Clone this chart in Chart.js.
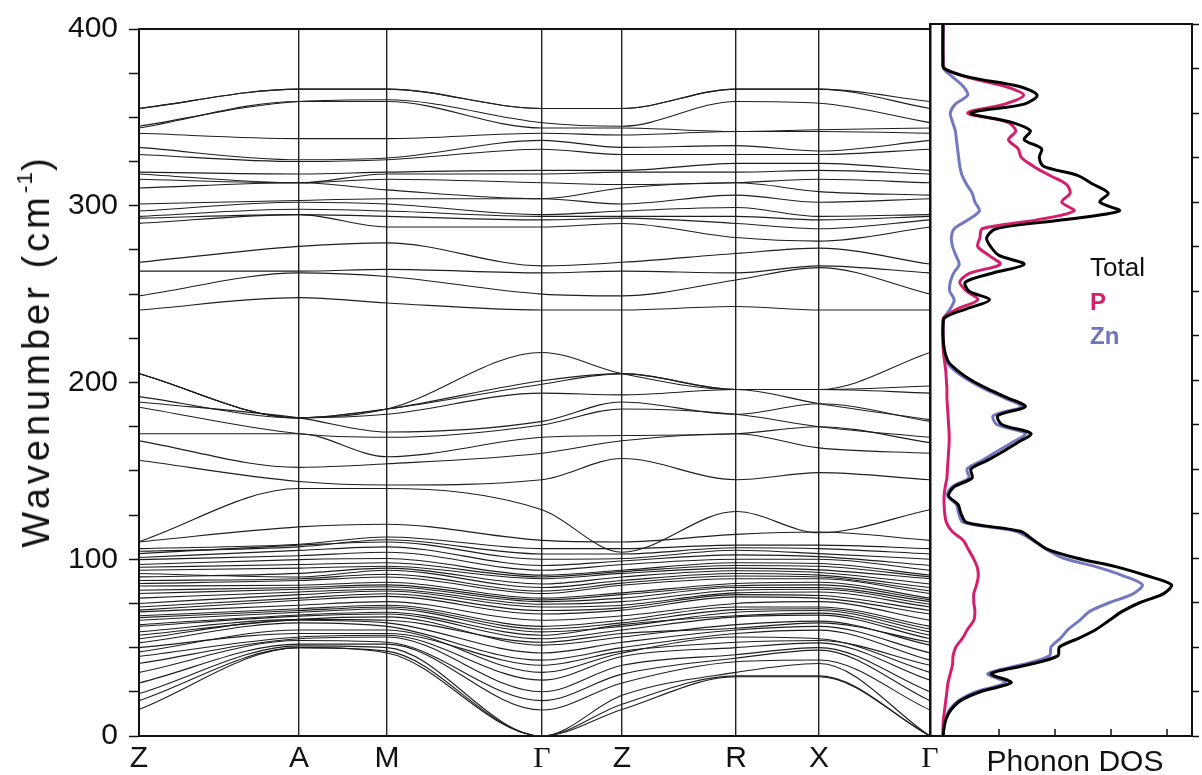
<!DOCTYPE html>
<html lang="en">
<head>
<meta charset="UTF-8" />
<title>Phonon dispersion and DOS</title>
<script src="https://cdn.jsdelivr.net/npm/chart.js"></script>
<style>
    body { margin: 0; background: #fff; width: 1202px; height: 775px; position: relative; overflow: hidden;
           font-family: 'Liberation Sans', Arial, sans-serif; color: #111; }
    #bands { position: absolute; left: 0; top: 0; }
    #dos { position: absolute; left: 920px; top: 0; }
    .leg { position: absolute; left: 1090px; line-height: 1; }
    .lab { position: absolute; white-space: nowrap; line-height: 1; transform: translate(-50%, -50%); }
    #ytitle { left: 36px; top: 351px; font-size: 38px; letter-spacing: 4px;
              transform: translate(-50%, -50%) rotate(-90deg); }
    #ytitle sup { font-size: 60%; letter-spacing: 1px; vertical-align: 0.75em; line-height: 0; }
    #xtitle { left: 1075px; top: 761px; font-size: 30px; }
</style>
</head>
<body>
<canvas id="bands" width="962" height="775"></canvas>
<canvas id="dos" width="282" height="775"></canvas>
<div class="lab" id="ytitle">Wavenumber (cm<sup>-1</sup>)</div>
<div class="lab" id="xtitle">Phonon DOS</div>
<div class="leg" style="top:254px;font-size:26px;color:#111;">Total</div>
<div class="leg" style="top:290px;font-size:24px;font-weight:bold;color:#d4206c;">P</div>
<div class="leg" style="top:324px;font-size:24px;font-weight:bold;color:#6f74bb;">Zn</div>
<script>
// high-symmetry path
const kLabels = ['Z', 'A', 'M', 'Γ', 'Z', 'R', 'X', 'Γ'];
const kPos = [0, 160, 248, 403, 483, 597, 680, 791];

// band frequencies (cm-1) at Z, A, M, Γ, Z, R, X, Γ
const bandsLow = [
    [15, 50, 47, 0, 15, 33.5, 33.5, 0],
    [20, 50, 48, 0, 18, 34, 34, 0],
    [24, 51, 50, 0, 23, 36, 41, 0],
    [30, 52, 52, 14.7, 30, 42, 43, 14.7],
    [36, 54, 53, 20, 35, 44, 48.6, 20],
    [41, 55, 56, 25, 40, 46, 50, 25],
    [45, 56, 57, 31.6, 45, 50, 52.7, 31.6],
    [47.6, 60, 60, 36, 47, 56, 55, 36],
    [50, 58, 58, 40, 48, 53, 54, 40],
    [52.7, 64, 62, 42.9, 50, 58, 59.9, 42.9],
    [55, 65.5, 64, 47, 53, 60, 62, 47],
    [57, 66, 67.4, 51.4, 56, 63, 65, 51.4],
    [59, 66, 65.5, 53, 58, 61, 64, 53],
    [62, 67.8, 69, 55, 60, 67.4, 68.4, 55],
    [63, 68.5, 70, 57, 63, 68, 69.5, 57],
    [65.5, 70, 72, 58.9, 62, 70, 71, 58.9],
    [67, 71, 73, 60.5, 64, 71.5, 72, 60.5],
    [68, 72, 74, 62, 65.5, 73, 73, 62],
    [70.2, 74, 76, 65.5, 68, 75, 76, 65.5],
    [71.2, 76.8, 79, 69, 71.2, 78.7, 78, 69],
    [73, 78, 80.5, 71, 72.5, 80, 79.5, 71],
    [75, 80, 82, 73, 74, 81, 81.5, 73],
    [78, 81.5, 83, 74.5, 76, 82.5, 83, 74.5],
    [80.6, 83, 84.4, 76, 78, 84, 84, 76],
    [82.5, 84, 85.5, 77, 80, 85, 85.5, 77],
    [84.9, 85.3, 87, 78, 81, 86.3, 87, 78],
    [86.3, 88, 90, 80.6, 85.3, 89, 89, 80.6],
    [88, 89, 91.5, 82, 86.5, 90.5, 90, 82],
    [90, 92, 95, 86, 90, 93.5, 92.5, 86],
    [91.9, 90, 93.8, 84, 88, 91.9, 91, 84],
    [93.8, 95, 96, 89, 92, 95, 94, 89],
    [95.5, 97, 98, 90, 93, 96.5, 96, 90],
    [97, 99.8, 100.4, 91, 93.8, 98, 97.6, 91],
    [99.8, 102, 104, 93.8, 97, 100, 100, 93.8],
    [101, 105, 107, 96.5, 99, 102.5, 101.5, 96.5],
    [103.2, 108, 109.8, 100, 100.4, 105.1, 103.2, 100],
    [104.5, 107, 111, 103, 103, 106.5, 106, 103],
    [106, 108.5, 112.6, 106, 106, 108, 108, 106],
    [109.8, 118.3, 119.8, 110.7, 109.8, 114.1, 115.4, 110.7]
];
const bandsMid = [
    [110, 140, 140, 128, 104, 127, 115, 128],
    [156, 144, 142, 145, 157, 145, 149, 145],
    [167, 152, 154, 160, 167, 171, 163, 160],
    [171, 171, 158, 169, 170, 171, 175, 166],
    [186, 171, 169, 176, 185, 182, 175, 169],
    [189, 180, 172, 178, 189, 182, 188, 178],
    [192, 180, 182, 194, 193, 196, 188, 179],
    [205, 180, 185, 199, 205, 196, 196, 194],
    [205, 180, 185, 201, 205, 196, 196, 198],
    [205, 180, 185, 217, 205, 196, 196, 217]
];
const bandsHigh = [
    [241, 248, 245, 241, 241, 243, 241, 241],
    [249, 262, 260, 250, 249, 258, 265, 250],
    [263, 263, 264, 262, 263, 262, 266, 262],
    [268, 277, 279, 266, 268, 273, 276, 267],
    [290, 295, 288, 288, 290, 282, 280, 288],
    [293, 295, 294, 292, 293, 290, 287, 292],
    [294, 298, 297, 294, 294, 294, 292, 294],
    [297, 302, 301, 295, 297, 299, 294, 295],
    [301, 303, 304, 304, 301, 306, 302, 304],
    [310, 313, 309, 304, 310, 313, 308, 306],
    [315, 313, 315, 313, 312, 313, 315, 313],
    [318, 313, 318, 318, 319, 319, 320, 318],
    [319, 318, 319, 320, 320, 324, 324, 320],
    [329, 325, 326, 332, 329, 329, 329, 332],
    [333, 326, 327, 337, 333, 334, 331, 337],
    [341, 338, 338, 341, 340, 342, 342, 341],
    [344, 359, 359, 344, 344, 342, 343, 344],
    [345, 359, 360, 347, 345, 359, 358, 347],
    [355, 366, 366, 355, 355, 366, 366, 355],
    [355, 366, 366, 355, 355, 366, 366, 359]
];

// phonon DOS
const dosFreq = [0, 5, 10, 15, 20, 25, 30, 35, 40, 45, 50, 55, 60, 65, 70, 75, 80, 85, 90, 95,
    100, 105, 110, 115, 120, 125, 130, 135, 140, 145, 150, 155, 160, 165, 170, 175, 180, 185, 190, 195,
    200, 205, 210, 215, 220, 225, 230, 235, 240, 245, 250, 255, 260, 265, 270, 275, 280, 285, 290, 295,
    300, 305, 310, 315, 320, 325, 330, 335, 340, 345, 350, 355, 360, 365, 370, 375, 380, 400];
const dosTotal = [0, 0.02, 0.06, 0.15, 0.32, 0.68, 1.22, 0.86, 1.52, 2.05, 2.08, 2.43, 2.74, 2.97, 3.2, 3.52, 3.94, 4.08, 3.64, 3.1,
    2.38, 1.86, 1.62, 1.38, 0.42, 0.32, 0.27, 0.1, 0.2, 0.52, 0.5, 0.8, 1.08, 1.34, 1.57, 1.05, 0.98, 1.47, 1.15, 0.8,
    0.5, 0.27, 0.1, 0.04, 0.01, 0, 0, 0.03, 0.42, 0.83, 0.46, 0.4, 0.88, 1.45, 1.0, 0.85, 0.78, 0.95, 2.15, 3.15,
    2.8, 2.95, 2.68, 2.4, 1.8, 1.72, 1.76, 1.45, 1.56, 1.2, 0.5, 1.45, 1.68, 1.35, 0.48, 0.02, 0, 0];
const dosP = [0, 0, 0.01, 0.03, 0.05, 0.07, 0.09, 0.13, 0.17, 0.18, 0.23, 0.35, 0.44, 0.55, 0.57, 0.55, 0.55, 0.6, 0.63, 0.61,
    0.54, 0.45, 0.36, 0.16, 0.06, 0.03, 0.02, 0.02, 0.04, 0.07, 0.08, 0.09, 0.1, 0.11, 0.11, 0.1, 0.09, 0.08, 0.07, 0.07,
    0.06, 0.05, 0.03, 0.01, 0, 0, 0, 0.01, 0.26, 0.62, 0.42, 0.3, 0.48, 1.02, 0.82, 0.62, 0.66, 0.7, 1.7, 2.34,
    2.12, 2.27, 2.2, 1.9, 1.62, 1.4, 1.34, 1.17, 1.3, 1.14, 0.44, 1.1, 1.44, 1.1, 0.44, 0.03, 0, 0];
const dosZn = [0, 0.02, 0.05, 0.12, 0.28, 0.6, 1.12, 0.8, 1.4, 1.9, 1.93, 2.1, 2.24, 2.44, 2.62, 2.98, 3.4, 3.56, 3.22, 2.74,
    2.14, 1.84, 1.6, 1.3, 0.36, 0.28, 0.24, 0.08, 0.16, 0.46, 0.43, 0.71, 0.97, 1.24, 1.47, 0.96, 0.9, 1.4, 1.09, 0.74,
    0.45, 0.22, 0.07, 0.03, 0.01, 0, 0, 0.02, 0.13, 0.2, 0.12, 0.13, 0.19, 0.29, 0.23, 0.17, 0.15, 0.2, 0.45, 0.65,
    0.57, 0.52, 0.42, 0.34, 0.3, 0.28, 0.26, 0.24, 0.22, 0.17, 0.13, 0.22, 0.44, 0.36, 0.18, 0.01, 0, 0];

const sans = 'Liberation Sans, Arial, sans-serif';
const serif = 'Liberation Serif, Times New Roman, serif';
const ink = '#111';

// band structure panel
const allBands = [...bandsLow, ...bandsMid, ...bandsHigh];
new Chart(document.getElementById('bands'), {
    type: 'line',
    data: {
        datasets: allBands.map(b => ({
            data: b.map((v, i) => ({ x: kPos[i], y: v })),
            borderColor: '#1e1e1e',
            borderWidth: 1.1,
            pointRadius: 0,
            cubicInterpolationMode: 'monotone',
            fill: false
        }))
    },
    options: {
        responsive: false,
        animation: false,
        layout: { padding: { right: 32 } },
        plugins: { legend: { display: false }, tooltip: { enabled: false } },
        scales: {
            x: {
                type: 'linear', min: 0, max: 791,
                afterBuildTicks: s => { s.ticks = kPos.map(v => ({ value: v })); },
                afterFit: s => { s.height = 39; s.paddingLeft = 0; s.paddingRight = 0; },
                ticks: {
                    autoSkip: false, maxRotation: 0, padding: 5, color: ink,
                    callback: (v, i) => kLabels[i],
                    font: c => ({ family: kLabels[c.index] === 'Γ' ? serif : sans, size: 30 })
                },
                grid: { color: '#222', lineWidth: 1.4, drawTicks: false },
                border: { color: ink, width: 2 }
            },
            xTop: {
                type: 'linear', position: 'top', min: 0, max: 791,
                afterFit: s => { s.height = 24; s.paddingLeft = 0; s.paddingRight = 0; },
                ticks: { display: false },
                grid: { display: false },
                border: { color: ink, width: 2 }
            },
            y: {
                min: 0, max: 400,
                afterFit: s => { s.width = 139; },
                ticks: {
                    stepSize: 25, padding: 11, color: ink,
                    font: { family: sans, size: 30 },
                    callback: v => (v % 100 === 0 ? v : '')
                },
                grid: { drawOnChartArea: false, tickLength: 10, tickColor: ink, tickWidth: 1.5 },
                border: { color: ink, width: 2 }
            }
        }
    }
});

// tick marks pointing into the DOS panel from its bottom edge
const innerTicks = {
    id: 'innerTicks',
    afterDraw(chart) {
        const { ctx, scales } = chart;
        const yb = scales.y.getPixelForValue(0);
        ctx.save();
        ctx.strokeStyle = ink;
        ctx.lineWidth = 1.5;
        [1, 2, 3, 4].forEach(v => {
            const x = scales.x.getPixelForValue(v);
            ctx.beginPath();
            ctx.moveTo(x, yb);
            ctx.lineTo(x, yb - 7);
            ctx.stroke();
        });
        ctx.restore();
    }
};

const dosSet = (vals, color, order) => ({
    data: dosFreq.map((f, i) => ({ x: vals[i], y: f })),
    borderColor: color,
    borderWidth: 3,
    pointRadius: 0,
    tension: 0.3,
    fill: false,
    order: order
});

new Chart(document.getElementById('dos'), {
    type: 'line',
    data: {
        datasets: [
            dosSet(dosTotal, '#000', 0),
            dosSet(dosP, '#d4206c', 1),
            dosSet(dosZn, '#7479bf', 2)
        ]
    },
    plugins: [innerTicks],
    options: {
        responsive: false,
        animation: false,
        indexAxis: 'y',
        layout: { padding: { left: 10 } },
        plugins: { legend: { display: false }, tooltip: { enabled: false } },
        scales: {
            x: {
                type: 'linear', min: -0.232, max: 4.446,
                afterFit: s => { s.height = 39; },
                ticks: { display: false },
                grid: { display: false },
                border: { color: ink, width: 2 }
            },
            xTop: {
                type: 'linear', position: 'top', min: -0.232, max: 4.446,
                afterFit: s => { s.height = 24; },
                ticks: { display: false },
                grid: { display: false },
                border: { color: ink, width: 2 }
            },
            y: {
                type: 'linear', position: 'right', min: 0, max: 400,
                afterFit: s => { s.width = 10; },
                ticks: { stepSize: 25, callback: () => '', padding: 0 },
                grid: { drawOnChartArea: false, tickLength: 7, tickColor: ink, tickWidth: 1.5 },
                border: { color: ink, width: 2 }
            },
            yLeft: {
                type: 'linear', position: 'left', min: 0, max: 400,
                afterFit: s => { s.width = 0; },
                ticks: { display: false },
                grid: { display: false },
                border: { color: ink, width: 2.5 }
            }
        }
    }
});
</script>
</body>
</html>
